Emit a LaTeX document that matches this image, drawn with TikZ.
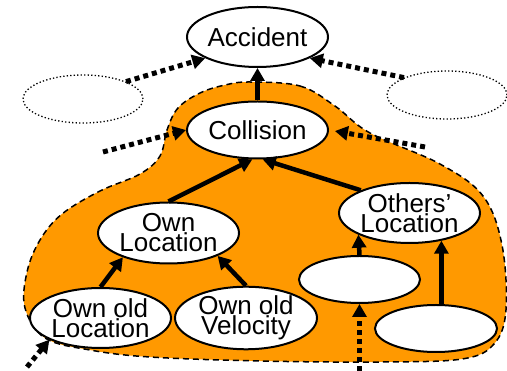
\documentclass[tikz,border=0pt]{standalone}
\usepackage{fontspec}
\setmainfont{Liberation Sans}
\usetikzlibrary{shapes.geometric,arrows.meta}
\definecolor{blobfill}{RGB}{255,153,0}
\tikzset{
  ev/.style={ellipse, draw=black, line width=2pt, fill=white, inner sep=0pt,
    minimum width=141pt, minimum height=60pt, align=center,
    font=\fontsize{26pt}{20pt}\selectfont},
  ghost/.style={ellipse, draw=black, line width=1.3pt, dash pattern=on 1.3pt off 2.2pt,
    inner sep=0pt, minimum width=120pt, minimum height=48pt},
  blank/.style={ellipse, draw=black, line width=2pt, fill=white, inner sep=0pt,
    minimum width=121pt, minimum height=47pt},
  solidarr/.style={line width=4.5pt, -{Triangle[length=13pt,width=14pt]}},
  dotarr/.style={line width=5pt, dash pattern=on 5pt off 4pt, -{Triangle[length=13pt,width=14pt]}},
  blob/.style={fill=blobfill, draw=black, line width=1.5pt, dash pattern=on 6pt off 4pt}
}
\begin{document}
\begin{tikzpicture}[x=1pt,y=-1pt]
\useasboundingbox (0,0) rectangle (507,371);
\draw[blob] plot[smooth cycle, tension=0.6] coordinates {
 (250,82) (300,86) (335,106) (370,133) (440,164) (483,196) (502,245) (506,310)
 (494,344) (462,359) (380,362) (260,361) (150,357) (90,350) (45,338) (25,308)
 (27,272) (40,240) (62,214) (100,191) (140,174) (160,156) (167,130) (178,108)
 (200,93) (225,85)};
\node[ev] (acc) at (257.5,37) {Accident};
\node[ev, minimum height=57pt] (col) at (257.5,130) {Collision};
\node[ghost] (lg) at (83,99) {};
\node[ghost] (rg) at (447,95) {};
\node[ev, minimum height=61pt] (ol) at (168.5,233) {Own\\Location};
\node[ev] (ool) at (100.5,318) {Own old\\Location};
\node[ev, minimum width=142pt] (oov) at (246,318) {Own old\\Velocity};
\node[ev] (oth) at (409.5,213) {Others’\\Location};
\node[blank] (b1) at (359.5,279.5) {};
\node[blank, minimum width=122pt] (b2) at (436,328.5) {};
\coordinate (cl) at (103,152);
\coordinate (cr) at (425,147);
\coordinate (bl) at (27,367);
\coordinate (bb) at (359.5,371);
% solid arrows
\draw[solidarr] (col.north) -- (acc.south);
\draw[solidarr] (ol.north) -- (col.-100);
\draw[solidarr] (oth.155) -- (col.-80);
\draw[solidarr] (ool.north) -- (ol.-152);
\draw[solidarr] (oov.north) -- (ol.-25);
\draw[solidarr] (b1.north) -- (oth.-157);
\draw[solidarr] (oth.-41.5 |- b2.north) -- (oth.-41.5);
% dotted arrows
\draw[dotarr] (lg.22) -- (acc.-158);
\draw[dotarr] (rg.158) -- (acc.-22);
\draw[dotarr] (cl) -- (col.west);
\draw[dotarr, shorten >=6pt] (cr) -- (col.east);
\draw[dotarr] (bl) -- (ool.-157);
\draw[dotarr] (bb) -- (b1.south);
\end{tikzpicture}
\end{document}
